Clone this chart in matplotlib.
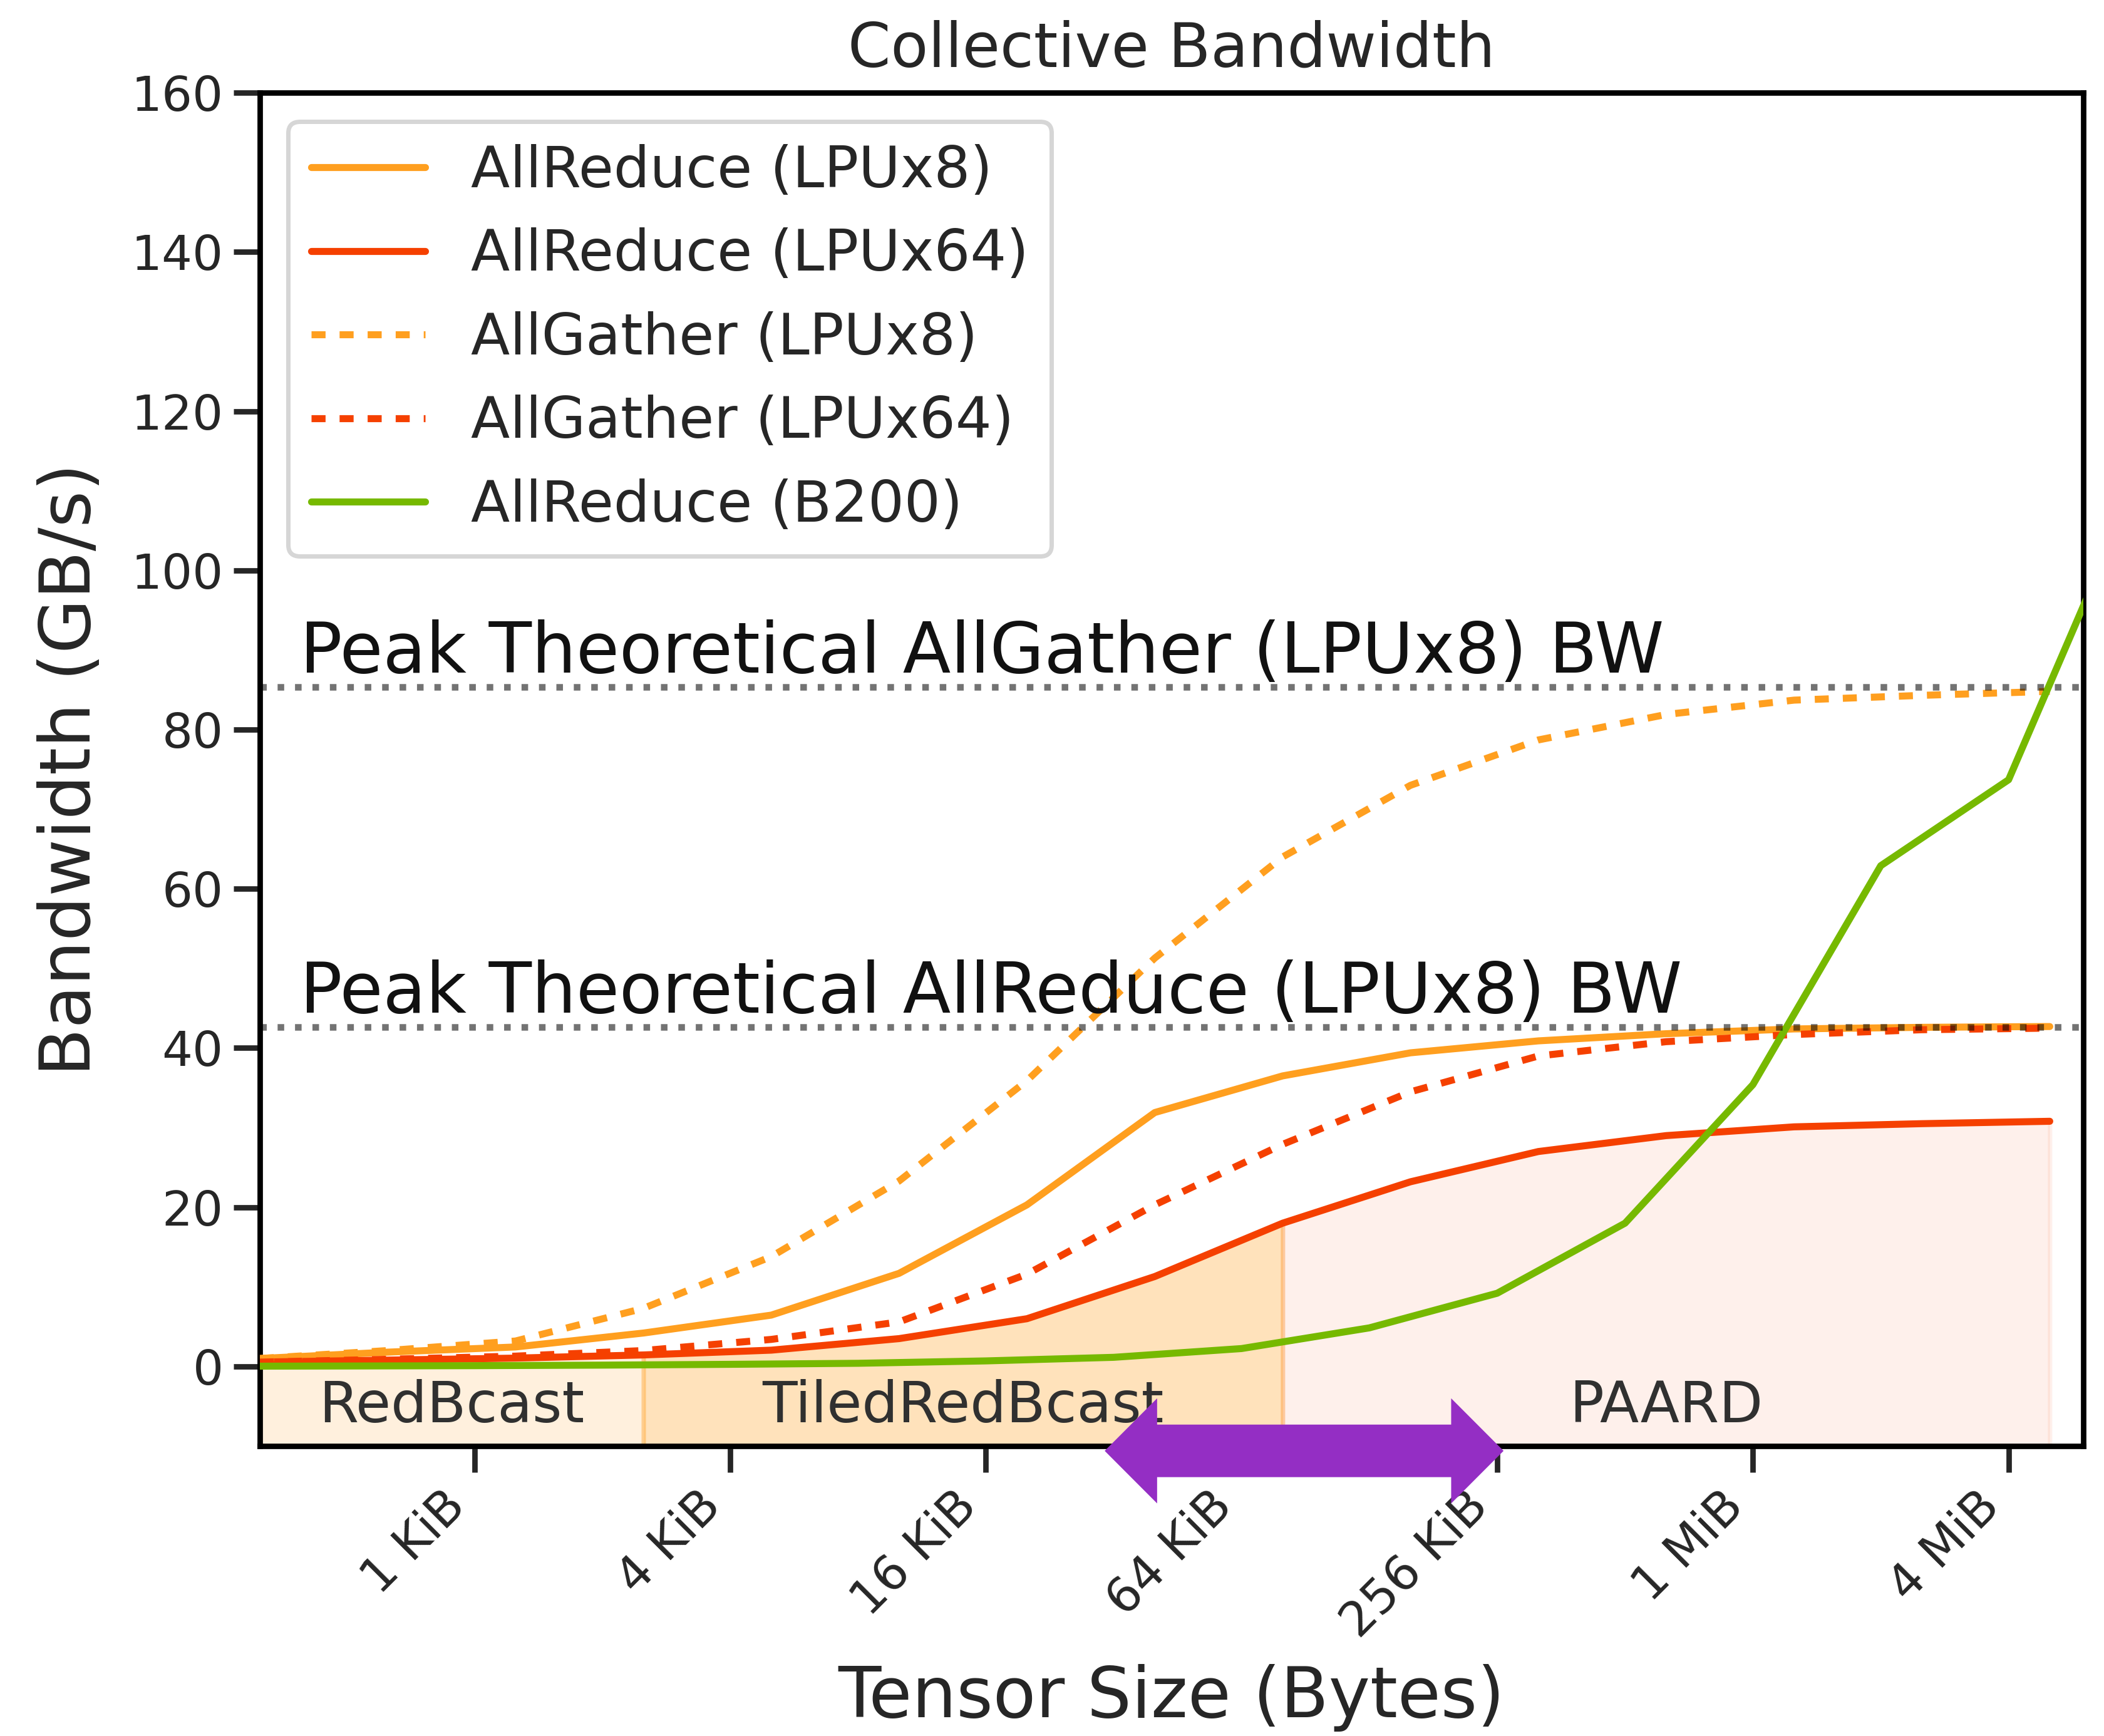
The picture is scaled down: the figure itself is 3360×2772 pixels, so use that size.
import numpy as np
import matplotlib.pyplot as plt
import seaborn as sns
from matplotlib.patches import Polygon
from matplotlib.transforms import blended_transform_factory

sns.set_theme(style="ticks", context="talk")
plt.rcParams["font.family"] = ["DejaVu Sans"]
plt.rcParams["axes.edgecolor"] = "black"
plt.rcParams["lines.solid_capstyle"] = "round"

# tensor sizes in bytes (LPU runs use multiples of 320 B vectors)
lpu_sizes = np.array([320, 640, 1280, 2560, 5120, 10240, 20480, 40960, 81920,
                      163840, 327680, 655360, 1310720, 2621440, 5242880])
allreduce_lpu8 = [1.0, 1.8, 2.45, 4.2, 6.45, 11.7, 20.3, 31.9, 36.5,
                  39.4, 40.9, 41.8, 42.4, 42.6, 42.7]
allreduce_lpu64 = [0.55, 0.8, 1.05, 1.45, 2.05, 3.5, 6.0, 11.3, 18.0,
                   23.2, 27.0, 29.0, 30.1, 30.5, 30.8]
allgather_lpu8 = [1.0, 2.0, 3.2, 7.3, 13.8, 23.3, 35.9, 51.3, 64.0,
                  73.0, 78.7, 81.9, 83.7, 84.3, 84.8]
allgather_lpu64 = [0.55, 0.9, 1.3, 2.0, 3.4, 5.6, 11.6, 20.3, 27.9,
                   34.5, 39.0, 40.8, 41.7, 42.3, 42.5]

b200_sizes = np.array([256, 512, 1024, 2048, 4096, 8192, 16384, 32768, 65536,
                       131072, 262144, 524288, 1048576, 2097152, 4194304, 8388608])
allreduce_b200 = [0.03, 0.06, 0.1, 0.17, 0.27, 0.4, 0.7, 1.15, 2.25,
                  4.85, 9.2, 18.0, 35.4, 62.9, 73.7, 111.0]

peak_allgather = 85.33
peak_allreduce = 42.67

# algorithm regions along the LPUx64 AllReduce curve
region_names = ["RedBcast", "TiledRedBcast", "PAARD"]
region_bounds = [(320, 2560), (2560, 81920), (81920, 5242880)]

tick_sizes = [1024, 4096, 16384, 65536, 262144, 1048576, 4194304]
tick_labels = ["1 KiB", "4 KiB", "16 KiB", "64 KiB", "256 KiB", "1 MiB", "4 MiB"]

ORANGE = "#FF9F1F"
RED = "#F54000"
GREEN = "#76B900"
PURPLE = "#942EC4"
region_colors = [(ORANGE, 0.15), (ORANGE, 0.30), (RED, 0.08)]

YMIN, YMAX = -10, 160

fig, ax = plt.subplots(figsize=(10, 8.25), dpi=336)
fig.subplots_adjust(left=0.1235, right=0.9902, top=0.9466, bottom=0.167)

for name, (lo, hi), (c, a) in zip(region_names, region_bounds, region_colors):
    m = (lpu_sizes >= lo) & (lpu_sizes <= hi)
    ax.fill_between(lpu_sizes[m], YMIN, np.array(allreduce_lpu64)[m],
                    color=c, alpha=a, zorder=1)
    ax.text(np.sqrt(lo * hi), -5, name, ha="center", va="center",
            fontsize=19.5, color="#303030", zorder=3)

lw = 2.4
ax.plot(lpu_sizes, allreduce_lpu8, color=ORANGE, lw=lw, label="AllReduce (LPUx8)", zorder=4)
ax.plot(lpu_sizes, allreduce_lpu64, color=RED, lw=lw, label="AllReduce (LPUx64)", zorder=4)
ax.plot(lpu_sizes, allgather_lpu8, color=ORANGE, lw=lw, linestyle=(0, (2, 2)),
        label="AllGather (LPUx8)", zorder=4)
ax.plot(lpu_sizes, allgather_lpu64, color=RED, lw=lw, linestyle=(0, (2, 2)),
        label="AllGather (LPUx64)", zorder=4)
ax.plot(b200_sizes, allreduce_b200, color=GREEN, lw=lw, label="AllReduce (B200)", zorder=4)

# theoretical peaks
tr = blended_transform_factory(ax.transAxes, ax.transData)
for peak, txt in [(peak_allgather, "Peak Theoretical AllGather (LPUx8) BW"),
                  (peak_allreduce, "Peak Theoretical AllReduce (LPUx8) BW")]:
    ax.axhline(peak, color="black", alpha=0.55, linestyle=":", zorder=5)
    ax.text(0.022, peak, txt, transform=tr, ha="left", va="bottom",
            fontsize=24, color="#111111", zorder=5)

# double-headed arrow spanning 32 KiB .. 256 KiB, sitting on the x axis
a0, a1 = np.log2(32 * 1024) - 0.07, np.log2(256 * 1024) + 0.05
head = 0.41
yc, body, hw = -10.6, 3.3, 6.6
arrow_xy = [(a0, yc), (a0 + head, yc + hw), (a0 + head, yc + body),
            (a1 - head, yc + body), (a1 - head, yc + hw), (a1, yc),
            (a1 - head, yc - hw), (a1 - head, yc - body), (a0 + head, yc - body),
            (a0 + head, yc - hw)]
arrow_xy = [(2 ** lx, y) for lx, y in arrow_xy]
ax.add_patch(Polygon(arrow_xy, closed=True, facecolor=PURPLE, edgecolor="none",
                     clip_on=False, zorder=10))

ax.set_xscale("log", base=2)
ax.set_xlim(320, 6 * 1024 * 1024)
ax.set_ylim(YMIN, YMAX)
ax.set_xticks(tick_sizes)
ax.set_xticklabels(tick_labels, rotation=45, ha="right")
ax.minorticks_off()
ax.set_yticks(np.arange(0, 161, 20))
ax.tick_params(colors="#262626")

ax.set_title("Collective Bandwidth", fontsize=21, pad=9)
ax.set_xlabel("Tensor Size (Bytes)", fontsize=24, labelpad=6)
ax.set_ylabel("Bandwidth (GB/s)", fontsize=24, labelpad=9)
ax.legend(loc="upper left", fontsize=19.5)

fig.savefig("out.png", dpi=336)
